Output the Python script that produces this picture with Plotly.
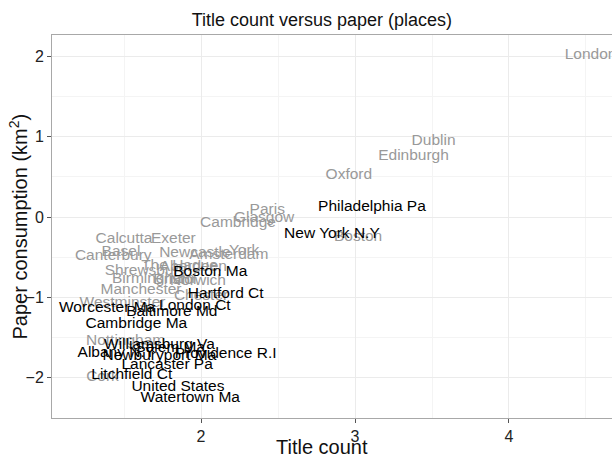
import plotly.graph_objects as go

# Gray labels (UK / other places)
gray_places = ["London", "Dublin", "Edinburgh", "Oxford", "Paris", "Glasgow", "Cambridge",
               "Boston", "Calcutta", "Exeter", "Canterbury", "Basel", "Newcastle", "Amsterdam",
               "York", "Shrewsbury", "The Hague", "Aberdeen", "Birmingham", "Bristol", "Norwich",
               "Manchester", "Chester", "Westminster", "Nottingham", "Cork"]
gray_title_count = [4.53, 3.51, 3.38, 2.96, 2.43, 2.41, 2.24,
                    3.02, 1.50, 1.82, 1.43, 1.48, 1.96, 2.18,
                    2.28, 1.64, 1.86, 1.95, 1.69, 1.83, 1.98,
                    1.61, 2.00, 1.49, 1.51, 1.36]
gray_paper = [2.02, 0.95, 0.76, 0.52, 0.09, -0.01, -0.07,
              -0.25, -0.27, -0.27, -0.49, -0.44, -0.45, -0.47,
              -0.42, -0.67, -0.61, -0.62, -0.77, -0.79, -0.80,
              -0.91, -0.99, -1.07, -1.54, -2.00]

# Black labels (US places)
black_places = ["Philadelphia Pa", "New York N.Y", "Boston Ma", "Hartford Ct", "London Ct",
                "Worcester Ma", "Baltimore Md", "Cambridge Ma", "Williamsburg Va", "Salem Ma",
                "Albany N.Y", "Providence R.I", "Newburyport Ma", "Lancaster Pa",
                "Litchfield Ct", "United States", "Watertown Ma"]
black_title_count = [3.11, 2.85, 2.06, 2.16, 1.96,
                     1.39, 1.81, 1.58, 1.73, 1.80,
                     1.45, 2.16, 1.73, 1.78,
                     1.55, 1.85, 1.93]
black_paper = [0.12, -0.21, -0.69, -0.96, -1.11,
               -1.13, -1.19, -1.33, -1.60, -1.63,
               -1.69, -1.71, -1.73, -1.85,
               -1.97, -2.12, -2.25]

FONT = "Liberation Sans, Arial, sans-serif"

fig = go.Figure()
fig.add_trace(go.Scatter(x=gray_title_count, y=gray_paper, text=gray_places, mode="text",
                         textposition="middle center",
                         textfont=dict(family=FONT, size=15.5, color="#999999"),
                         hoverinfo="text", showlegend=False))
fig.add_trace(go.Scatter(x=black_title_count, y=black_paper, text=black_places, mode="text",
                         textposition="middle center",
                         textfont=dict(family=FONT, size=15.5, color="#000000"),
                         hoverinfo="text", showlegend=False))

PW, PH = 560, 383
fig.update_layout(
    width=612, height=459,
    margin=dict(l=52, r=0, t=35, b=41),
    paper_bgcolor="white", plot_bgcolor="white",
    font=dict(family=FONT, color="#222222"),
    title=dict(text="Title count versus paper (places)", xref="container", x=0.526,
               xanchor="center", yref="container", y=1 - 20 / 459, yanchor="middle",
               font=dict(size=18, color="#111111")),
    annotations=[
        dict(text="Title count", xref="paper", yref="paper", x=(322 - 52) / PW,
             y=(418 - 447) / PH, xanchor="center", yanchor="middle", showarrow=False,
             font=dict(size=20, color="#111111")),
        dict(text="Paper consumption (km<sup>2</sup>)", xref="paper", yref="paper",
             x=(18 - 52) / PW, y=0.5, textangle=-90, xanchor="center", yanchor="middle",
             showarrow=False, font=dict(size=20, color="#111111")),
    ],
)
fig.update_xaxes(range=[1.032, 4.669], tick0=0, dtick=1, showgrid=True, gridcolor="#ebebeb",
                 minor=dict(dtick=0.5, tick0=0, showgrid=True, gridcolor="#f4f4f4"),
                 zeroline=False, showline=True, mirror=True, linecolor="#a8a8a8",
                 ticks="outside", ticklen=4, tickcolor="#555555", automargin=False,
                 tickfont=dict(size=16, color="#222222"))
fig.update_yaxes(range=[-2.503, 2.267], tick0=0, dtick=1, showgrid=True, gridcolor="#ebebeb",
                 minor=dict(dtick=0.5, tick0=0, showgrid=True, gridcolor="#f4f4f4"),
                 zeroline=False, showline=True, mirror=True, linecolor="#a8a8a8",
                 ticks="outside", ticklen=4, tickcolor="#555555", automargin=False,
                 tickfont=dict(size=16, color="#222222"))

fig.write_html("out.html", config={"displayModeBar": False},
               post_script="document.body.style.margin='0';document.body.style.overflow='hidden';")
